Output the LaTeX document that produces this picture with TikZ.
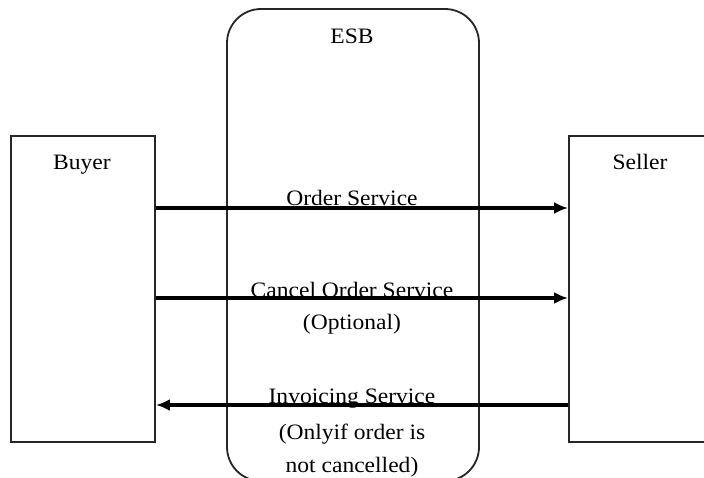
\documentclass[tikz,border=0pt]{standalone}
\usepackage{fontspec}
\setmainfont{Liberation Serif}[FakeStretch=1.07]
\usetikzlibrary{arrows.meta}

\begin{document}
\begin{tikzpicture}[x=1pt, y=-1pt,
    party/.style={draw=black!85, line width=1.8pt, minimum width=144pt, minimum height=306pt, inner sep=0pt},
    busbox/.style={draw=black!85, line width=1.8pt, rounded corners=34pt, minimum width=252pt, minimum height=472pt, inner sep=0pt},
    caption/.style={anchor=base, inner sep=0pt, font=\fontsize{22}{26}\selectfont},
    flow/.style={line width=3.2pt, -{Latex[length=14pt,width=12pt]}}]
  \useasboundingbox (0,0) rectangle (704,477);
  \clip (0,0) rectangle (704,477);
  \fill[white] (0,0) rectangle (704,477);

  % enterprise service bus and the two parties
  \node[busbox] (esb) at (353,245) {};
  \node[party] (buyer) at (83,289) {};
  \node[party, minimum width=160pt] (seller) at (649,289) {};

  % headings
  \node[caption] (esbname) at (352,43) {ESB};
  \node[caption] (buyername) at (82,169) {Buyer};
  \node[caption] (sellername) at (640,169) {Seller};

  % service labels
  \node[caption] (order) at (352,205) {Order Service};
  \node[caption] (cancel) at (352,297) {Cancel Order Service};
  \node[caption] (cancelnote) at (352,329) {(Optional)};
  \node[caption] (invoice) at (352,403) {Invoicing Service};
  \node[caption] (invnote1) at (352,439) {(Onlyif order is};
  \node[caption] (invnote2) at (352,472) {not cancelled)};

  % service calls between the parties
  \coordinate (y1) at (0,208);
  \coordinate (y2) at (0,298);
  \coordinate (y3) at (0,405);
  \draw[flow] (buyer.east |- y1) -- (seller.west |- y1);
  \draw[flow] (buyer.east |- y2) -- (seller.west |- y2);
  \draw[flow] (seller.west |- y3) -- (buyer.east |- y3);
\end{tikzpicture}
\end{document}
